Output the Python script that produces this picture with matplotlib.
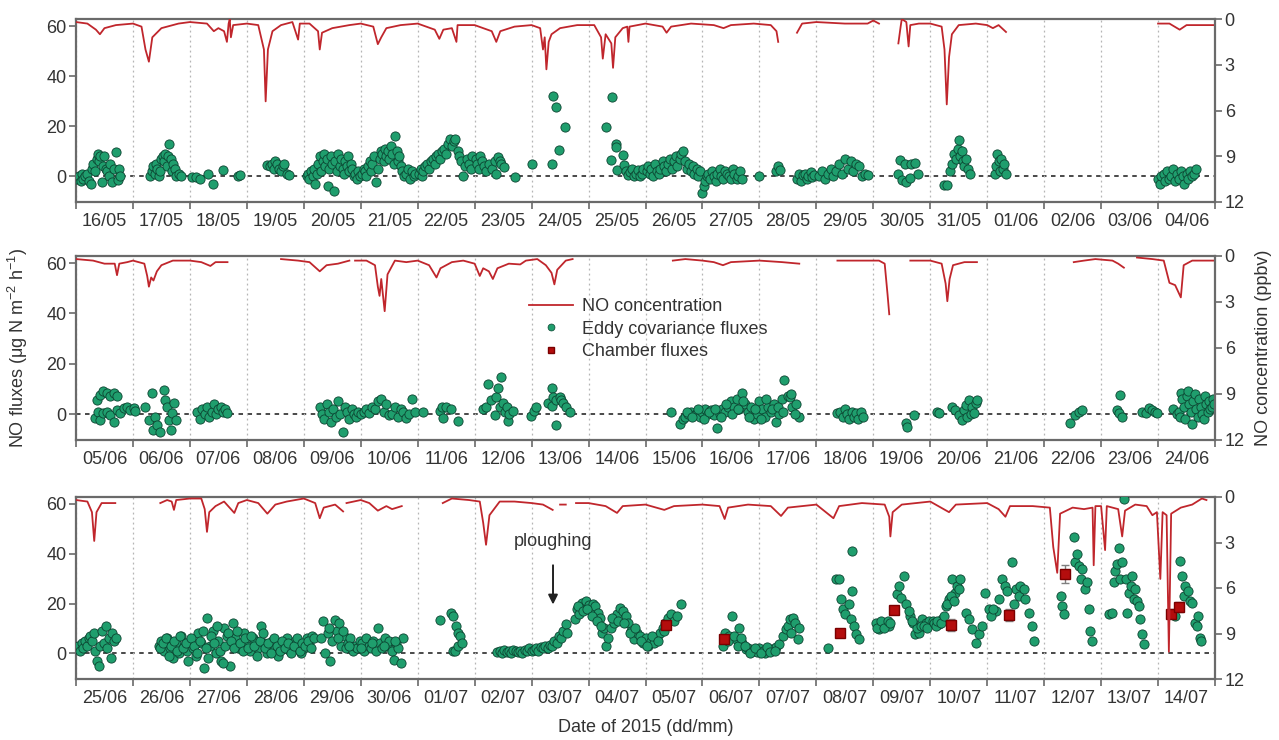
import numpy as np
import matplotlib
matplotlib.use('Agg')
import matplotlib.pyplot as plt
import matplotlib.dates as mdates
from matplotlib.lines import Line2D
from matplotlib.ticker import NullFormatter
from datetime import datetime

plt.rcParams['font.family'] = ['Liberation Sans', 'DejaVu Sans']
plt.rcParams['mathtext.default'] = 'regular'

N = None
panel_starts = [datetime(2015, 5, 16), datetime(2015, 6, 5), datetime(2015, 6, 25)]

# ---- Eddy covariance fluxes (days from panel start, ug N m-2 h-1) ----
p1_ec = [(0.02,-1),(0.05,0),(0.08,-2),(0.10,1),(0.13,-1),(0.16,0),(0.19,1),(0.22,-2),(0.27,-3),(0.28,3),(0.30,5),(0.33,2),(0.36,7),(0.38,9),(0.40,6),(0.42,8),(0.45,-2.3),(0.47,4),(0.50,8),(0.52,3),(0.55,2),(0.58,0),(0.60,5),(0.63,-2.3),(0.66,3),(0.71,9.7),(0.74,-1.6),(0.75,3),(0.78,0),
 (1.30,0),(1.33,2),(1.36,4),(1.38,1),(1.40,5),(1.42,3),(1.45,0),(1.48,2),(1.50,7),(1.52,8),(1.55,6),(1.57,9),(1.60,4),(1.62,8),(1.64,13),(1.66,7),(1.68,2),(1.70,5),(1.73,3),(1.76,0),(1.80,1),(1.84,0),
 (2.03,-0.3),(2.10,-0.5),(2.18,-1),(2.32,1),(2.41,-3.2),(2.58,2.5),(2.85,0),(2.88,0.3),
 (3.35,4.5),(3.40,4),(3.44,5),(3.48,3),(3.50,6),(3.53,5),(3.56,3),(3.60,2),(3.63,4),(3.66,5),(3.70,1),(3.74,0.3),
 (4.05,0),(4.08,1),(4.10,-1),(4.13,2),(4.16,0),(4.18,3),(4.20,-3),(4.23,1),(4.25,5),(4.28,8),(4.30,2),(4.33,6),(4.35,9),(4.38,4),(4.40,7),(4.43,-4),(4.45,3),(4.48,8),(4.50,5),(4.53,-6),(4.55,6),(4.58,2),(4.60,9),(4.63,4),(4.65,7),(4.68,3),(4.70,1),(4.73,6),(4.75,4),(4.78,8),(4.80,2),(4.83,5),(4.85,3),(4.88,0),(4.90,1),(4.93,-1),(4.96,2),(4.99,0),
 (5.02,1),(5.05,3),(5.08,2),(5.10,0),(5.13,4),(5.16,6),(5.18,2),(5.20,5),(5.23,8),(5.27,-2.5),(5.30,3),(5.33,7),(5.35,10),(5.38,9),(5.40,6),(5.43,11),(5.45,8),(5.48,10),(5.50,7),(5.53,12),(5.55,9),(5.58,5),(5.60,16),(5.63,10),(5.65,6),(5.68,8),(5.70,4),(5.73,2),(5.76,0),(5.80,1),(5.83,3),(5.86,-1),(5.90,2),(5.93,0),(5.96,1),
 (6.02,1),(6.05,3),(6.08,0),(6.10,2),(6.13,4),(6.16,5),(6.20,3),(6.23,6),(6.26,7),(6.30,5),(6.33,8),(6.36,9),(6.40,7),(6.43,10),(6.46,11),(6.50,9),(6.53,13),(6.56,15),(6.60,12),(6.63,14),(6.66,15),(6.70,10),(6.73,8),(6.76,6),(6.80,0),(6.83,4),(6.86,7),(6.90,5),(6.93,3),(6.96,8),
 (7.02,7),(7.05,5),(7.08,3),(7.10,8),(7.13,6),(7.16,4),(7.20,2),(7.25,5),(7.30,3),(7.35,6),(7.38,1),(7.41,7.7),(7.44,6),(7.47,5),(7.52,3.7),(7.70,-0.3),(8.00,4.8),
 (8.36,5),(8.38,32),(8.42,27.7),(8.48,10.4),(8.58,19.5),
 (9.30,19.5),(9.42,31.7),(9.40,6.4),(9.48,13),(9.49,11.7),(9.50,2.4),(9.60,8.4),(9.63,4.4),(9.66,2),(9.70,0.5),(9.73,1.5),(9.76,3),(9.80,0),(9.83,1),(9.86,2.5),(9.90,0),(9.93,1),(9.96,3),
 (10.02,2),(10.05,4),(10.08,1),(10.10,3),(10.13,0),(10.16,5),(10.20,2),(10.23,1),(10.26,3),(10.30,6),(10.33,4),(10.36,2),(10.40,5),(10.43,7),(10.46,3),(10.50,6),(10.53,8),(10.56,4),(10.60,7),(10.63,9),(10.66,10),(10.70,6),(10.73,3),(10.76,5),(10.80,2),(10.83,4),(10.86,1),(10.90,3),(10.93,0),(10.96,2),
 (11.00,-6.7),(11.02,-4),(11.05,-2),(11.08,0),(11.10,1),(11.13,-1),(11.16,2),(11.20,0),(11.23,-2),(11.26,1),(11.30,3),(11.33,0),(11.36,-1),(11.40,2),(11.43,1),(11.46,0),(11.50,-1),(11.53,3),(11.56,1),(11.60,-1),(11.63,0),(11.66,2),(11.70,-1),
 (12.00,0),(12.30,2),(12.33,4),(12.36,2.5),(12.66,-1),(12.70,1),(12.73,-2),(12.76,0.5),(12.80,1),(12.83,-1),(12.86,0),(12.90,1.5),(12.93,-0.5),(12.96,0.5),
 (13.05,0),(13.10,2),(13.15,-1),(13.20,1),(13.25,3),(13.30,0),(13.35,2),(13.40,5),(13.45,1),(13.50,7),(13.55,3),(13.60,6),(13.65,2),(13.70,5),(13.75,4),(13.80,0),(13.85,1),(13.90,0.5),
 (14.44,1),(14.47,6.4),(14.50,-1.6),(14.56,5),(14.58,-2.3),(14.64,-0.8),(14.67,5),(14.73,5.4),(14.79,1),
 (15.25,-3.6),(15.30,-3.6),(15.35,2),(15.38,5),(15.42,9),(15.45,7),(15.48,11),(15.50,14.4),(15.52,8),(15.55,10),(15.58,6),(15.60,4),(15.63,7),(15.66,3),(15.70,1),
 (16.14,1),(16.16,4),(16.18,9),(16.20,6),(16.22,2),(16.25,7),(16.28,3),(16.30,5),(16.33,1),
 (19.00,-1),(19.03,-3),(19.06,0),(19.10,1),(19.13,-2),(19.16,2),(19.20,-1),(19.23,0),(19.26,3),(19.30,-2),(19.33,1),(19.36,-1),(19.40,2),(19.43,0),(19.46,-3),(19.50,1),(19.53,-1),(19.56,2),(19.60,0),(19.63,1),(19.66,3)]

p2_ec = [(0.34,-1.7),(0.36,5.6),(0.39,1),(0.42,7.6),(0.42,-2.4),(0.48,9),(0.48,0.3),(0.54,8.3),(0.54,1),(0.60,7),(0.60,-0.4),(0.66,8.3),(0.66,-3),(0.72,7),(0.72,1.6),(0.78,0.3),(0.84,2.3),(0.89,3),(0.95,1.6),(1.01,2.3),(1.04,1.3),
 (1.22,3),(1.28,-2.4),(1.34,8.3),(1.36,-6.4),(1.39,-1),(1.42,-4.4),(1.48,-7),(1.54,9.6),(1.57,5.6),(1.60,3),(1.63,-2.4),(1.66,-6.4),(1.69,0.3),(1.72,4.3),(1.75,-2.4),
 (2.13,1),(2.18,-2),(2.22,2),(2.26,0),(2.30,3),(2.34,-1),(2.38,1),(2.42,4),(2.46,0),(2.50,2),(2.54,3),(2.58,1),(2.62,2),(2.66,0.5),
 (4.28,3),(4.32,0),(4.36,-2),(4.40,4),(4.44,1),(4.48,-3),(4.52,2),(4.56,-1),(4.60,5),(4.64,0),(4.68,-7),(4.72,3),(4.76,1),(4.80,-2),(4.84,2),(4.88,0),(4.92,-1),(4.96,1),
 (5.00,0),(5.05,1),(5.10,2),(5.15,0.5),(5.20,3),(5.25,2),(5.30,5),(5.35,6),(5.40,1),(5.45,4),(5.50,-0.5),(5.55,0),(5.60,3),(5.65,-1),(5.70,2),(5.75,1),(5.80,-1.5),(5.85,0),(5.90,6),(5.95,1),
 (6.09,0.7),(6.39,1.4),(6.42,3),(6.44,-1.4),(6.50,2.7),(6.59,2),(6.71,-2.7),
 (7.15,2),(7.20,3),(7.23,12),(7.29,5.4),(7.35,-0.4),(7.38,6.8),(7.41,10.4),(7.44,3),(7.47,14.9),(7.50,4.3),(7.53,1),(7.56,3),(7.58,-2.7),(7.61,0),(7.67,1.4),
 (7.99,-0.7),(8.05,1.4),(8.08,3),(8.29,4.3),(8.35,10.4),(8.35,3.4),(8.38,6.8),(8.42,-4.3),(8.43,5.4),(8.49,6.8),(8.52,5.6),(8.55,4.3),(8.61,3),(8.67,0.7),
 (10.45,0.7),(10.61,-3.8),(10.66,-2),(10.70,-1),(10.75,0),(10.80,1),(10.85,-0.5),(10.90,0.5),(10.95,-1),(11.00,1),(11.05,2),(11.10,0),(11.15,1.5),(11.20,-0.5),(11.25,-5.4),(11.30,0),(11.35,2),(11.40,1),(11.45,3),(11.50,5),(11.55,3),(11.60,6),(11.65,2),(11.70,8.4),(11.75,4),(11.80,1),(11.85,3),(11.90,-2),(11.95,0),(12.00,5),(12.05,2),(12.10,-1),(12.15,3),(12.20,1),(12.25,4),(12.30,-3),(12.35,0),(12.40,6),(12.44,13.5),(12.50,7),(12.53,6.8),(12.58,3),(12.64,4),(12.70,-1),
 (10.72,1),(10.82,-1),(10.92,2),(11.02,-2),(11.12,1),(11.22,2),(11.32,-1),(11.42,4),(11.52,0),(11.62,2),(11.72,5),(11.82,-1),(11.92,2),(12.02,-2),(12.12,6),(12.22,2),(12.32,3),(12.42,1),(12.55,8),(12.62,0),
 (13.37,0.5),(13.42,1),(13.46,-1),(13.50,2),(13.54,0),(13.58,-2),(13.62,1),(13.66,-1),(13.70,0.5),(13.74,-2),(13.78,1),(13.82,-1),
 (14.57,-3.7),(14.60,-5.3),(14.71,-0.4),(15.12,0.9),(15.15,0.3),
 (15.39,2.9),(15.44,1.6),(15.50,-0.4),(15.56,-2.4),(15.59,1.6),(15.62,3.6),(15.65,-1),(15.68,5.6),(15.71,0),(15.74,2.9),(15.77,0.3),(15.80,4.3),(15.82,5.6),
 (17.45,-3.7),(17.55,-0.4),(17.61,0.9),(17.67,1.6),
 (18.28,1.6),(18.31,0.3),(18.34,7.6),(18.37,-1),(18.72,0.9),(18.78,0.3),(18.84,2.3),(18.90,1.6),(18.95,0.9),(18.98,0.3),
 (19.27,2),(19.33,0),(19.36,1),(19.38,-1),(19.40,8.5),(19.42,6),(19.45,3),(19.47,-2),(19.50,7),(19.52,9),(19.55,4),(19.57,1),(19.60,-4),(19.62,5),(19.65,8),(19.67,2),(19.70,-1),(19.72,6),(19.75,3),(19.77,0),(19.80,-2),(19.82,7),(19.85,4),(19.87,1),(19.90,5),(19.92,2),(19.94,3),(19.96,6),(19.98,4)]

p3_ec = [(0.01,2),(0.04,3),(0.07,1),(0.10,4),(0.13,2),(0.16,5),(0.19,3),(0.22,6),(0.25,7),(0.28,5),(0.31,8),(0.34,1),(0.37,-3),(0.40,-5),(0.43,3),(0.46,9),(0.49,4),(0.52,11),(0.55,2),(0.58,6),(0.61,-2),(0.64,8),(0.67,5),(0.70,6),
 (1.45,3),(1.50,5),(1.55,1),(1.60,6),(1.65,2),(1.70,-2),(1.75,4),(1.80,0),(1.85,7),(1.90,3),(1.95,1),(2.00,5),(2.05,2),(2.10,-1),(2.15,8),(2.20,4),(2.25,-6),(2.30,14),(2.35,3),(2.40,9),(2.45,0),(2.50,5),(2.55,-3),(2.60,10),(2.65,7),(2.70,-5),(2.75,12),(2.80,6),(2.85,2),(2.90,4),(2.95,8),(3.00,3),(3.05,1),(3.10,6),(3.15,5),(3.20,2),(3.25,11),(3.30,4),(3.35,0),(3.40,3),(3.45,5),(3.50,2),(3.55,-1),(3.60,4),(3.65,3),(3.70,6),(3.75,1),(3.80,2),(3.85,5),(3.90,3),(3.95,0),(4.00,2),(4.05,6),(4.10,4),(4.15,7),
 (1.475,2),(1.525,4),(1.575,6),(1.625,-1),(1.675,3),(1.725,5),(1.775,1),(1.825,7),(1.875,2),(1.925,4),(1.975,-3),(2.025,6),(2.075,3),(2.125,0),(2.175,5),(2.225,9),(2.275,2),(2.325,-2),(2.375,7),(2.425,4),(2.475,11),(2.525,1),(2.575,-4),(2.625,3),(2.675,8),(2.725,5),(2.775,2),(2.825,9),(2.875,4),(2.925,1),(2.975,6),(3.025,2),(3.075,7),(3.125,3),(3.175,-1),(3.225,5),(3.275,8),(3.325,2),(3.375,4),(3.425,0),(3.475,6),(3.525,3),(3.575,1),(3.625,5),(3.675,2),(3.725,4),(3.775,0),(3.825,3),(3.875,6),(3.925,1),(3.975,4),(4.025,3),(4.075,5),(4.125,2),(4.175,6),
 (4.30,6),(4.34,13),(4.38,0),(4.42,8),(4.46,-3),(4.50,5),(4.54,13.5),(4.58,9),(4.62,12),(4.66,3),(4.70,7),(4.74,2),(4.78,4),(4.82,6),(4.86,1),(4.90,3),(4.94,2),(4.98,5),(5.02,4),(5.06,1),(5.10,6),(5.14,3),(5.18,2),(5.22,5),(5.26,1),(5.30,10),(5.34,4),(5.38,2),(5.42,6),(5.46,3),(5.50,5),(5.54,1),(5.58,-2.5),(5.62,4),(5.66,2),(5.70,-4),(5.74,6),
 (4.44,10),(4.60,6),(4.68,9),(4.80,3),(5.00,2),(5.20,4),(5.40,3),(5.60,5),
 (6.39,13.4),(6.59,16.4),(6.62,15),(6.62,1),(6.65,1),(6.68,11),(6.71,8.3),(6.71,3),(6.74,7),(6.77,4.3),
 (7.40,0.5),(7.44,1),(7.48,0),(7.52,1.5),(7.56,0.5),(7.60,1),(7.64,0),(7.68,1.5),(7.72,1),(7.76,0.5),(7.80,1),(7.84,0),(7.88,1.5),(7.92,1),(7.96,2),(8.00,1),(8.04,1.5),(8.08,2),(8.12,1),(8.16,2.5),(8.20,2),(8.24,3),(8.28,2),(8.32,3.5),(8.36,3),
 (8.40,5),(8.44,4),(8.48,7),(8.52,6),(8.56,9),(8.60,11.7),(8.62,8),
 (8.76,13.7),(8.80,17.7),(8.84,16),(8.88,20.4),(8.92,18),(8.96,21),(9.00,19.5),(9.04,17),(9.08,20),(9.12,19),(9.16,16.4),(9.20,14),(9.24,8.3),(9.28,10),(9.30,3),
 (8.82,19),(8.90,17),(8.98,18),(9.06,15),(9.14,13),(9.22,11),
 (9.35,6),(9.40,10),(9.45,12.3),(9.50,16),(9.55,18.4),(9.60,17),(9.65,15),(9.70,12),(9.75,9),(9.80,5.6),(9.85,8),(9.90,7),(9.95,4),(10.00,6),(10.05,3),(10.10,5),(10.15,4),(10.20,6),(10.25,8),(10.30,10),(10.35,12),(10.40,14),(10.45,16),(10.50,13),(10.55,15),(10.63,19.7),
 (9.42,14),(9.52,13),(9.62,12),(9.72,8),(9.82,10),(9.92,5),(10.02,3),(10.12,7),(10.22,5),(10.32,9),
 (11.36,3),(11.40,8),(11.47,7),(11.52,15),(11.59,5.6),(11.65,10.3),(11.70,4),(11.77,1.6),(11.80,2),(11.88,1),(11.95,0.5),(12.00,2),(12.06,1),(12.10,0.3),(12.15,1.5),(12.23,1.6),(12.30,2.5),(12.35,3.6),
 (11.44,5),(11.55,7),(11.62,3),(11.68,6),(11.74,3),(11.84,0),(11.92,2),(12.03,0),(12.13,2.5),(12.19,0.5),(12.27,1),
 (12.42,7),(12.47,9.7),(12.50,11),(12.53,13.7),(12.56,8),(12.59,14.4),(12.62,12),(12.67,5.6),(12.70,10),
 (13.20,2.3),(13.35,30),(13.40,30),(13.43,22),(13.46,18),(13.51,16),(13.57,20),(13.60,13.7),(13.63,41),(13.63,25),(13.66,11),(13.69,7.6),(13.75,5.6),
 (14.04,12.3),(14.10,9.7),(14.16,11),(14.22,12.3),(14.27,11),(14.42,24),(14.45,27),(14.48,22.4),(14.54,31),(14.57,19.7),(14.65,15),(14.74,7.6),(14.80,8.3),(14.86,13.7),(14.92,12.3),(14.98,13),
 (14.07,10),(14.13,13),(14.19,10),(14.25,13),(14.30,12),(14.70,12),(14.76,10),(14.83,11),(14.89,11),(14.95,10),(14.62,17),(14.68,13),
 (15.04,13),(15.15,11.7),(15.21,13.7),(15.27,19),(15.33,22),(15.39,29.8),(15.44,24.4),(15.47,27),(15.53,29.8),(15.62,16.4),(15.68,13.7),(15.74,9.7),(15.80,4.3),(15.85,7.6),(15.91,11),(15.97,24.4),
 (15.07,12),(15.10,11),(15.12,13),(15.18,12),(15.24,15),(15.30,20),(15.36,23),(15.42,21),(15.50,26),
 (16.03,17.7),(16.15,17),(16.26,29.8),(16.32,27),(16.44,36.5),(16.50,25.8),(16.56,23),(16.58,27),(16.64,25.8),(16.67,21.7),(16.73,16.4),(16.79,11),(16.82,5),
 (16.06,15),(16.10,18),(16.20,22),(16.35,25),(16.47,20),
 (17.29,23),(17.32,19),(17.35,16),(17.52,46.6),(17.55,36.5),(17.58,40),(17.61,35),(17.64,30),(17.67,34),(17.72,25.8),(17.75,28.5),(17.78,17.7),(17.81,9),(17.84,5),
 (18.13,15.7),(18.19,16.4),(18.22,28.5),(18.25,33),(18.28,36),(18.31,42.5),(18.34,30),(18.37,36.5),(18.40,62),(18.43,29.8),(18.46,16.4),(18.49,24.4),(18.52,27),(18.54,31),(18.57,22),(18.60,25.8),(18.63,21),(18.66,19),(18.69,13.7),(18.72,7.6),(18.75,3.6),
 (19.25,15.7),(19.30,15),(19.39,37),(19.42,31),(19.45,23),(19.48,27),(19.52,25),(19.56,21),(19.60,20.4),(19.65,12.3),(19.68,11),(19.71,15),(19.74,6.3),(19.76,5)]

# ---- Chamber fluxes (panel 3) ----
ch_t = [10.36, 11.37, 13.41, 14.36, 15.37, 16.38, 17.37, 19.22, 19.37]
ch_v = [11.3, 5.6, 8.0, 17.4, 11.4, 15.3, 31.8, 16.0, 18.7]
ch_err = [1.5, 1.5, 1.5, 1.5, 2.5, 2.5, 3.5, 2.0, 2.0]

# ---- NO concentration (days from panel start, ppbv); N = data gap ----
p1_conc = [(0,0.2),(0.2,0.3),(0.35,0.7),(0.42,1.0),(0.5,0.6),(0.7,0.4),(1.0,0.3),(1.15,0.5),(1.22,2.0),(1.28,2.8),(1.34,1.2),(1.5,0.6),(1.8,0.3),(2.0,0.2),(2.3,0.3),(2.42,0.8),(2.5,0.6),(2.6,0.8),(2.65,1.5),(2.68,0.3),(2.7,0.0),(2.72,1.2),(2.76,0.4),(3.0,0.3),(3.2,0.4),(3.3,2.0),(3.33,5.4),(3.37,2.0),(3.45,0.8),(3.6,0.4),(3.8,0.2),(3.9,1.35),(3.93,0.3),(4.1,0.3),(4.25,0.8),(4.28,2.0),(4.32,0.9),(4.5,0.6),(4.8,0.4),(5.0,0.3),(5.22,0.5),(5.3,1.65),(5.36,1.2),(5.45,0.6),(5.7,0.4),(6.0,0.3),(6.3,0.7),(6.38,1.3),(6.45,0.7),(6.6,0.6),(6.68,1.5),(6.7,0.4),(7.0,0.4),(7.3,0.8),(7.38,1.5),(7.45,0.8),(7.7,0.5),(8.0,0.4),(8.15,0.6),(8.2,2.0),(8.23,1.2),(8.26,3.3),(8.3,1.5),(8.35,1.0),(8.5,0.6),(8.8,0.4),(9.1,0.4),(9.22,1.2),(9.25,2.6),(9.3,1.0),(9.4,1.6),(9.43,3.2),(9.47,1.2),(9.6,0.6),(9.68,0.5),(9.7,1.5),(9.72,0.5),(10.0,0.3),(10.3,0.5),(10.37,0.9),(10.45,0.5),(10.8,0.3),(11.2,0.4),(11.37,0.6),(11.5,0.4),(11.9,0.3),(12.2,0.4),(12.3,0.8),(12.33,1.5),(12.34,N),
 (12.66,0.9),(12.75,0.3),(13.0,0.2),(13.5,0.3),(13.9,0.3),(14.0,0.1),(14.1,0.3),(14.11,N),
 (14.44,1.6),(14.48,0.5),(14.5,0.0),(14.58,0.2),(14.62,1.8),(14.65,0.4),(14.8,0.3),(15.0,0.3),(15.2,0.5),(15.25,2.0),(15.29,5.6),(15.33,2.5),(15.38,1.0),(15.5,0.4),(15.8,0.3),(16.0,0.4),(16.1,0.6),(16.2,0.4),(16.33,0.85),(16.34,N),
 (19.0,0.3),(19.2,0.3),(19.38,0.7),(19.5,0.4),(20.0,0.4)]

p2_conc = [(0,0.2),(0.3,0.3),(0.5,0.5),(0.68,0.5),(0.72,1.25),(0.76,0.5),(0.9,0.4),(1.0,0.3),(1.2,0.5),(1.25,1.3),(1.28,2.0),(1.32,1.4),(1.36,1.6),(1.42,1.0),(1.5,0.6),(1.7,0.3),(2.0,0.3),(2.2,0.4),(2.36,0.65),(2.45,0.4),(2.66,0.4),(2.67,N),
 (3.6,0.2),(3.9,0.3),(4.1,0.4),(4.28,1.0),(4.4,0.6),(4.6,0.5),(4.8,0.3),(4.82,N),
 (4.9,0.3),(5.1,0.3),(5.25,0.6),(5.3,2.0),(5.33,2.6),(5.36,1.5),(5.42,3.6),(5.47,1.2),(5.6,0.3),(5.8,0.4),(6.0,0.3),(6.2,0.6),(6.33,1.4),(6.4,0.8),(6.6,0.4),(6.8,0.3),(7.0,0.5),(7.09,1.3),(7.15,0.8),(7.25,1.0),(7.32,1.5),(7.4,0.8),(7.6,0.5),(7.8,0.55),(7.9,0.3),(8.1,0.2),(8.25,0.6),(8.35,1.1),(8.4,1.85),(8.45,0.9),(8.6,0.3),(8.72,0.2),(8.73,N),
 (10.48,0.3),(10.7,0.2),(11.0,0.3),(11.2,0.4),(11.36,0.6),(11.5,0.4),(12.0,0.3),(12.4,0.4),(12.7,0.5),(12.71,N),
 (13.37,0.3),(13.8,0.3),(14.1,0.3),(14.2,0.5),(14.25,2.5),(14.28,3.8),(14.29,N),
 (14.65,0.3),(15.0,0.3),(15.2,0.5),(15.27,1.8),(15.3,2.95),(15.34,1.5),(15.4,0.6),(15.6,0.4),(15.82,0.4),(15.83,N),
 (17.52,0.4),(17.7,0.3),(17.9,0.2),(18.2,0.3),(18.3,0.5),(18.4,0.76),(18.41,N),
 (18.63,0.1),(18.9,0.2),(19.1,0.3),(19.2,1.75),(19.3,1.9),(19.4,2.7),(19.45,0.6),(19.6,0.3),(20.0,0.3)]

p3_conc = [(0,0.2),(0.2,0.3),(0.28,1.0),(0.32,2.9),(0.36,1.0),(0.45,0.4),(0.69,0.4),(0.7,N),
 (1.48,0.4),(1.6,0.2),(1.68,0.3),(1.72,0.85),(1.76,0.2),(2.0,0.1),(2.2,0.1),(2.26,0.8),(2.3,2.3),(2.34,1.0),(2.45,0.6),(2.6,0.3),(2.78,1.05),(2.85,0.4),(3.0,0.2),(3.2,0.4),(3.36,1.1),(3.5,0.5),(3.7,0.3),(4.0,0.1),(4.2,0.4),(4.28,1.4),(4.35,0.7),(4.55,0.5),(4.69,0.95),(4.7,N),
 (4.75,0.4),(5.0,0.2),(5.15,0.4),(5.3,0.9),(5.45,0.6),(5.55,0.8),(5.72,0.6),(5.73,N),
 (6.44,0.4),(6.6,0.1),(6.9,0.2),(7.09,0.3),(7.15,1.7),(7.2,3.15),(7.26,1.2),(7.44,0.3),(7.7,0.3),(8.0,0.4),(8.2,0.5),(8.37,0.85),(8.38,N),
 (8.5,0.5),(8.6,0.5),(8.61,N),
 (8.78,0.4),(9.0,0.4),(9.3,0.6),(9.5,1.05),(9.6,0.6),(10.0,0.5),(10.33,0.85),(10.5,0.6),(11.0,0.5),(11.3,0.6),(11.39,1.45),(11.45,0.7),(11.8,0.5),(12.2,0.6),(12.38,1.25),(12.5,0.7),(13.0,0.5),(13.3,1.4),(13.4,0.6),(13.8,0.4),(14.2,0.5),(14.28,1.3),(14.3,2.6),(14.34,1.0),(14.5,0.5),(15.0,0.3),(15.33,1.0),(15.45,0.5),(16.0,0.4),(16.2,0.8),(16.32,1.3),(16.4,0.6),(16.8,0.6),(17.1,0.7),(17.16,3.3),(17.23,5.0),(17.28,1.1),(17.5,0.7),(17.7,0.8),(17.85,0.7),(17.87,4.5),(17.9,0.6),(18.0,0.6),(18.07,3.5),(18.1,0.6),(18.3,0.8),(18.37,2.6),(18.42,0.9),(18.6,0.5),(18.8,0.6),(18.9,1.2),(18.98,1.0),(19.04,5.4),(19.08,1.0),(19.15,1.2),(19.19,10.2),(19.23,1.1),(19.4,0.7),(19.6,0.5),(19.77,0.1),(19.85,0.2)]

ec_sets = [p1_ec, p2_ec, p3_ec]
conc_sets = [p1_conc, p2_conc, p3_conc]

left_ticks = [0, 20, 40, 60]
right_ticks = [0, 3, 6, 9, 12]

RED = '#c0262c'
GREEN = '#1f9e6d'
EDGE = '#0c4431'
SPINE = '#6a6a6a'

fig = plt.figure(figsize=(12.79, 7.40), dpi=100)
W, H = 1279, 740
panel_px = [(19, 202), (256, 440), (497, 679)]

axes = []
for i, (top, bot) in enumerate(panel_px):
    ax = fig.add_axes([76 / W, 1 - bot / H, (1215 - 76) / W, (bot - top) / H])
    base = mdates.date2num(panel_starts[i])
    ax.set_xlim(base, base + 20)
    ax.set_ylim(-10.3, 62.8)

    ax.grid(axis='x', which='major', linestyle=(0, (1.5, 2.5)), color='#b5b5b5', lw=0.9)
    ax.axhline(0, color='#3a3a3a', lw=1.3, ls=(0, (2.5, 2.5)), zorder=1)

    pts = ec_sets[i]
    t = np.array([p[0] for p in pts])
    v = np.array([p[1] for p in pts])
    ax.scatter(base + t, v, s=44, facecolor=GREEN, edgecolor=EDGE, linewidths=0.6, zorder=3)

    if i == 2:
        ax.errorbar(base + np.array(ch_t), ch_v, yerr=ch_err, fmt='s', ms=6.5,
                    mfc='#b40d0d', mec='#7a0000', ecolor='#7f7f7f', elinewidth=1.0,
                    capsize=3, zorder=4)
        xa = base + 8.376
        ax.annotate('', xy=(xa, 18.5), xytext=(xa, 36.5),
                    arrowprops=dict(arrowstyle='-|>', color='#222222', lw=1.4, mutation_scale=14))
        ax.text(xa, 44.8, 'ploughing', ha='center', va='center', fontsize=13, color='#333333')

    ax.set_yticks(left_ticks)
    ax.xaxis.set_major_locator(mdates.DayLocator())
    ax.xaxis.set_major_formatter(NullFormatter())
    ax.xaxis.set_minor_locator(mdates.HourLocator(byhour=[12]))
    ax.xaxis.set_minor_formatter(mdates.DateFormatter('%d/%m'))
    ax.tick_params(axis='x', which='major', direction='out', length=5, width=1.2, color=SPINE)
    ax.tick_params(axis='x', which='minor', length=0, pad=8, labelsize=13, labelcolor='#333333')
    ax.tick_params(axis='y', direction='out', length=5, width=1.2, color=SPINE,
                   labelsize=13, labelcolor='#333333', pad=2)
    for s in ['left', 'bottom', 'top']:
        ax.spines[s].set_color(SPINE)
        ax.spines[s].set_linewidth(1.6)
    ax.spines['right'].set_visible(False)

    ax2 = ax.twinx()
    ax2.set_ylim(12, 0)
    cp = conc_sets[i]
    ct = np.array([p[0] for p in cp], dtype=float)
    cv = np.array([np.nan if p[1] is None else p[1] for p in cp], dtype=float)
    ax2.plot(base + ct, cv, color=RED, lw=1.3, zorder=2)
    ax2.set_yticks(right_ticks)
    ax2.tick_params(axis='y', direction='out', length=5, width=1.2, color=SPINE,
                    labelsize=13, labelcolor='#333333', pad=2)
    for s in ['left', 'bottom', 'top']:
        ax2.spines[s].set_visible(False)
    ax2.spines['right'].set_color(SPINE)
    ax2.spines['right'].set_linewidth(1.6)
    axes.append((ax, ax2))

# legend in the middle panel
handles = [Line2D([], [], color=RED, lw=1.3),
           Line2D([], [], ls='none', marker='o', ms=5, mfc=GREEN, mec=EDGE, mew=0.5),
           Line2D([], [], ls='none', marker='s', ms=4, mfc='#b40d0d', mec='#7a0000')]
labels = ['NO concentration', 'Eddy covariance fluxes', 'Chamber fluxes']
axes[1][1].legend(handles, labels, loc='upper left', bbox_to_anchor=(0.398, 0.77),
                  frameon=False, fontsize=13, handlelength=2.4, handletextpad=0.5,
                  labelspacing=0.3, borderpad=0, borderaxespad=0, labelcolor='#333333')

fig.text(18 / W, 1 - 348 / H, 'NO fluxes (μg N m$^{-2}$ h$^{-1}$)', rotation=90,
         ha='center', va='center', fontsize=13, color='#333333')
fig.text(1264 / W, 1 - 348 / H, 'NO concentration (ppbv)', rotation=90,
         ha='center', va='center', fontsize=13, color='#333333')
fig.text(646 / W, 1 - 727 / H, 'Date of 2015 (dd/mm)', ha='center', va='center',
         fontsize=13, color='#333333')

fig.savefig('out.png', dpi=100)
